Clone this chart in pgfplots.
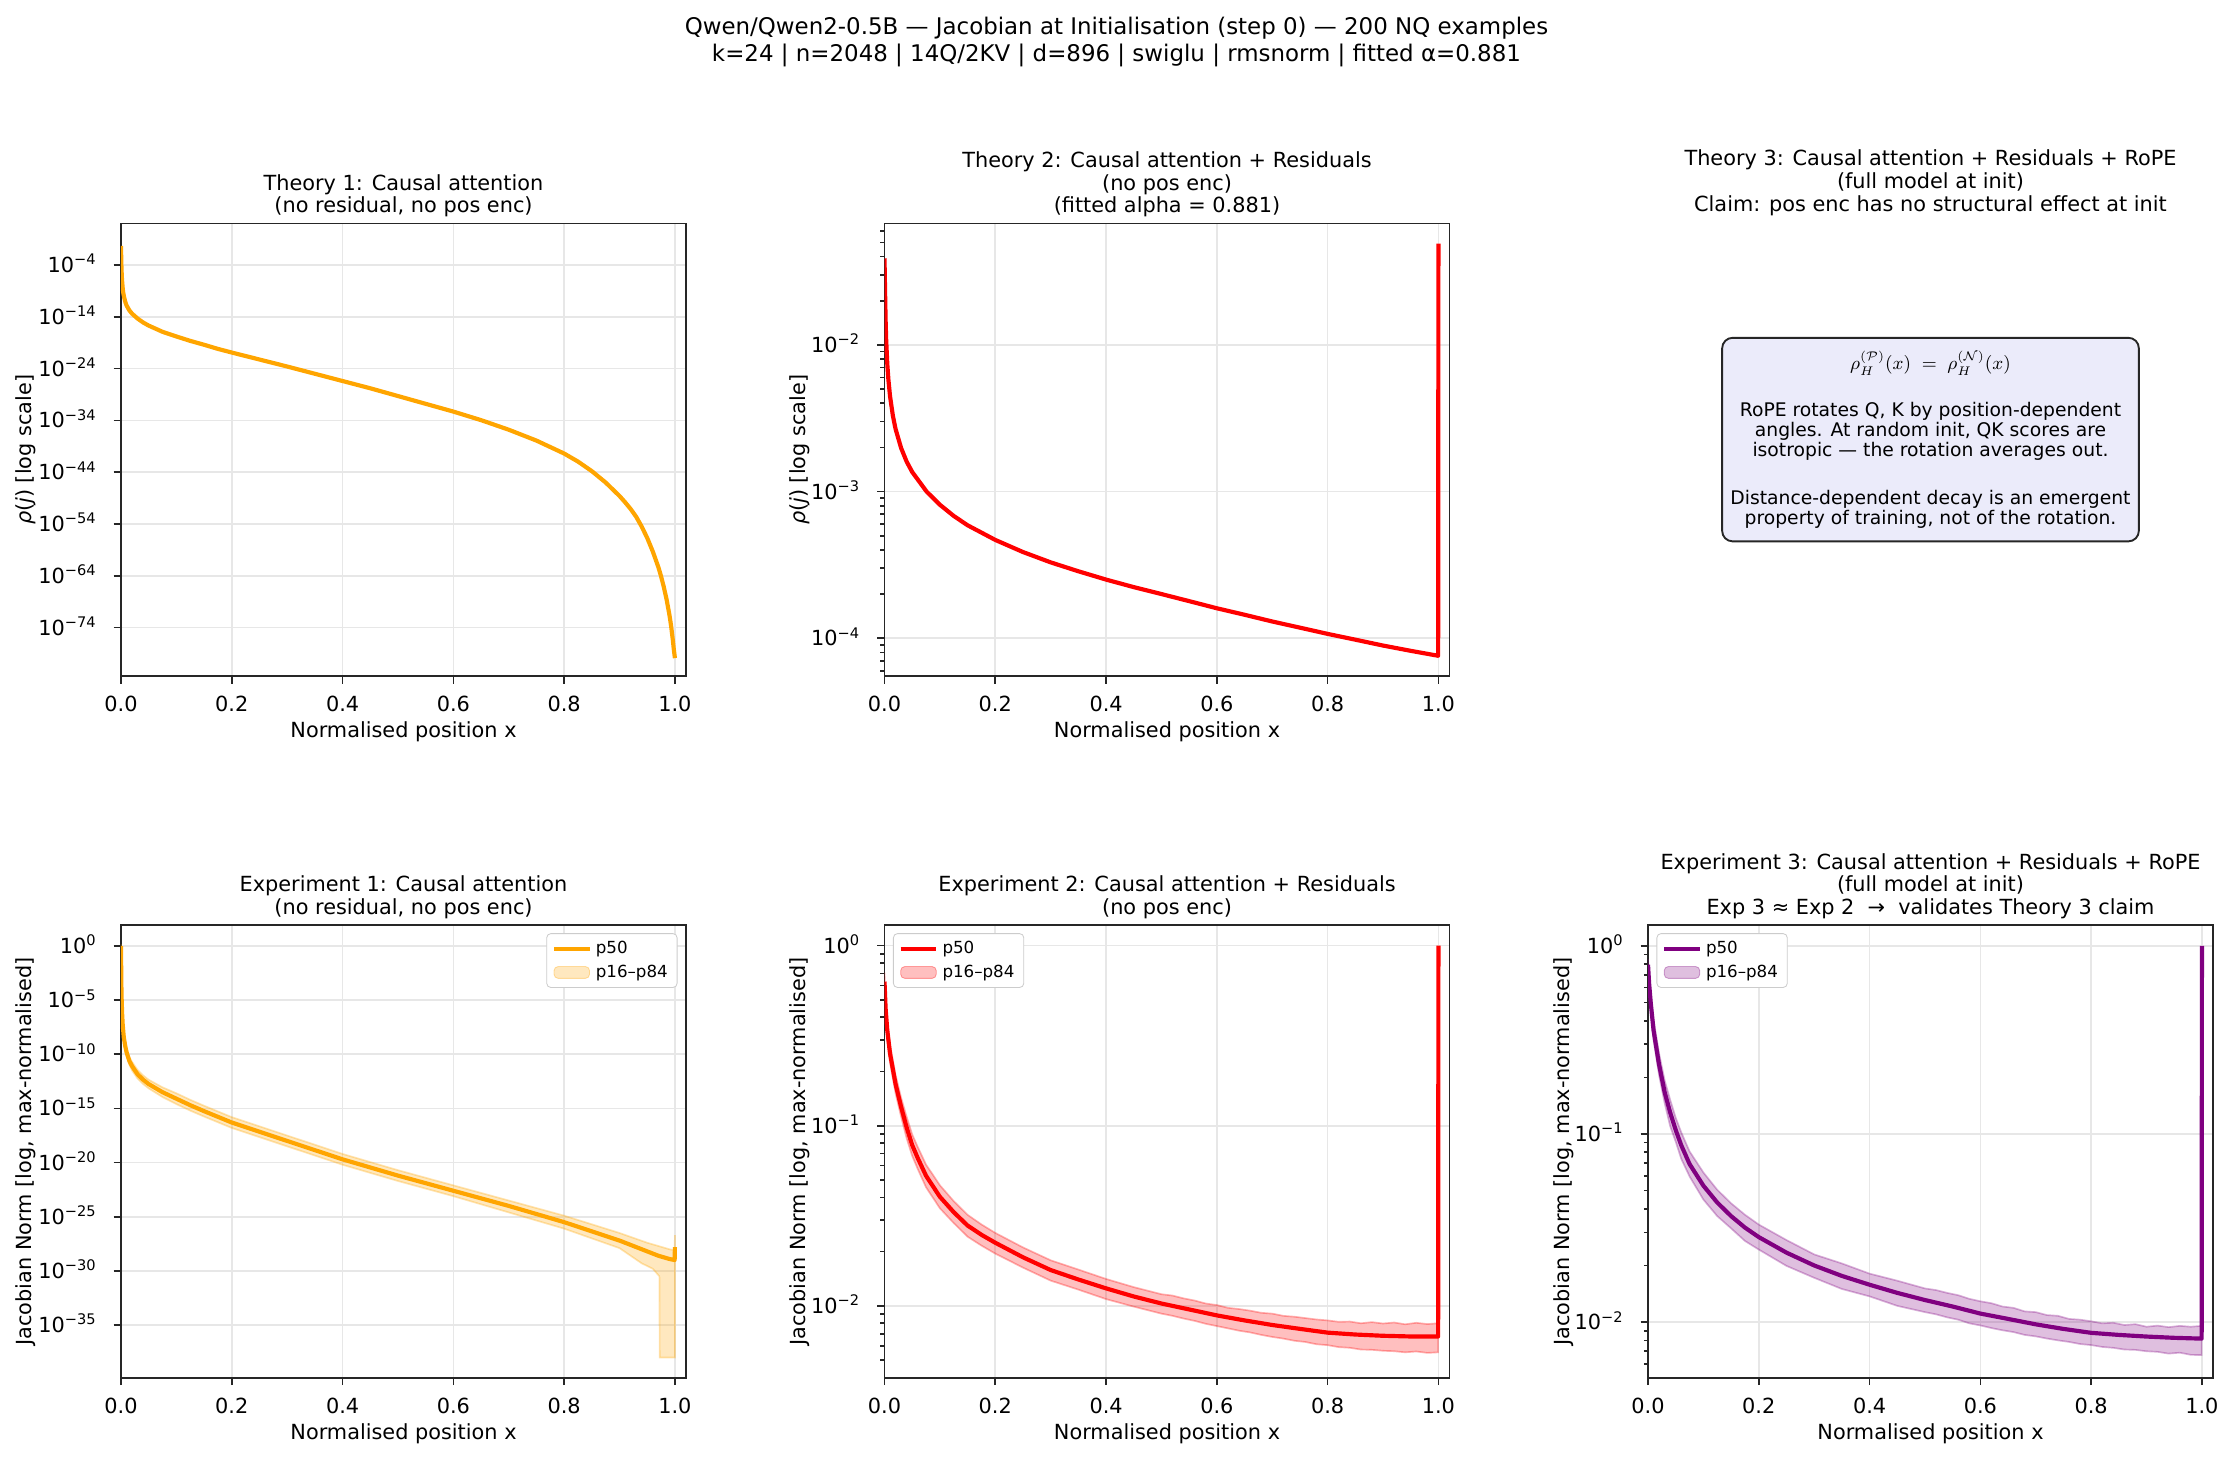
\documentclass[border=0pt]{standalone}
\usepackage{pgfplots}
\pgfplotsset{compat=1.18}
\usepackage{fontspec}
\setmainfont{DejaVu Sans}
\definecolor{mplorange}{RGB}{255,165,0}
\definecolor{mplred}{RGB}{255,0,0}
\definecolor{mplpurple}{RGB}{128,0,128}
\definecolor{gridgray}{RGB}{231,231,231}
\definecolor{axisgray}{RGB}{38,38,38}
\definecolor{boxfill}{RGB}{235,235,250}
\newcommand{\tp}[1]{10\textsuperscript{#1}}
\pgfplotsset{
  every axis/.append style={
    scale only axis, width=271.2pt, height=217.4pt,
    xmin=0, xmax=1.02, ymode=log,
    xtick={0,0.2,0.4,0.6,0.8,1.0},
    xticklabels={0.0,0.2,0.4,0.6,0.8,1.0},
    xmajorgrids, ymajorgrids,
    grid style={line width=0.8pt, draw=gridgray},
    axis line style={line width=0.8pt, draw=axisgray},
    every tick/.style={line width=0.8pt, draw=axisgray},
    major tick length=3.5pt, minor tick length=2pt,
    tick align=outside, xtick pos=bottom, ytick pos=left,
    xticklabel style={font=\fontsize{10}{12}\selectfont, inner sep=0pt, anchor=north, yshift=-6pt},
    yticklabel style={font=\fontsize{10}{12}\selectfont, inner sep=0pt, anchor=base east, xshift=-8pt, yshift=-3.6pt},
    label style={font=\fontsize{10}{12}\selectfont},
    xlabel={Normalised position x},
    xlabel style={at={(axis description cs:0.5,-0.123)}, anchor=center, inner sep=0pt},
    title style={font=\fontsize{10}{10.9}\selectfont, align=center, at={(axis description cs:0.5,1)}, anchor=south, inner sep=0pt, yshift=-3.2pt},
    legend style={font=\fontsize{8}{9.6}\selectfont, draw=black!20, rounded corners=2pt, fill=white, inner xsep=2.5pt, inner ysep=1.5pt, cells={anchor=west}},
    legend cell align=left,
  }
}
\begin{document}
\begin{tikzpicture}
\useasboundingbox (0,0) rectangle (1071.84pt,-699.36pt);

% Suptitle
\node[align=center, font=\fontsize{11}{13}\selectfont] at (535.92pt,-20pt)
  {Qwen/Qwen2-0.5B — Jacobian at Initialisation (step 0) — 200 NQ examples\\k=24 | n=2048 | 14Q/2KV | d=896 | swiglu | rmsnorm | fitted α=0.881};

% ---------------- Theory 1 ----------------
\begin{axis}[at={(58.08pt,-107.2pt)}, anchor=north west,
  ymin=3.98e-84, ymax=1.1e4,
  ytick={1e-4,1e-14,1e-24,1e-34,1e-44,1e-54,1e-64,1e-74},
  yticklabels={\tp{−4},\tp{−14},\tp{−24},\tp{−34},\tp{−44},\tp{−54},\tp{−64},\tp{−74}},
  minor ytick={},
  title={Theory 1: Causal attention\\(no residual, no pos enc)},
  ylabel={\textit{ρ}(\textit{j}) [log scale]},
  ylabel style={at={(axis description cs:-0.1689,0.5)}, anchor=center, inner sep=0pt},
]
\addplot[mplorange, line width=2pt, line join=round] coordinates {
(0,4.68e-1)(0.0005,6.31e-4)(0.001,1e-5)(0.0015,6.31e-7)(0.002,7.94e-8)(0.003,3.98e-9)
(0.004,5.01e-10)(0.006,3.98e-11)(0.008,6.31e-12)(0.01,1.58e-12)(0.015,1.78e-13)(0.02,3.98e-14)
(0.03,4.47e-15)(0.04,7.94e-16)(0.05,2.0e-16)(0.075,1.26e-17)(0.1,1.58e-18)(0.125,2.24e-19)
(0.15,3.98e-20)(0.175,6.31e-21)(0.2,1.26e-21)(0.25,5.62e-23)(0.3,2.51e-24)(0.35,1e-25)
(0.4,3.98e-27)(0.45,1.58e-28)(0.5,5.01e-30)(0.55,1.58e-31)(0.6,5.01e-33)(0.65,1.12e-34)
(0.7,1.58e-36)(0.75,1.26e-38)(0.8,3.98e-41)(0.825,1.12e-42)(0.85,1.58e-44)(0.875,1e-46)
(0.9,2.51e-49)(0.91,1.58e-50)(0.92,7.94e-52)(0.93,2.51e-53)(0.94,3.16e-55)(0.95,2.0e-57)
(0.96,5.01e-60)(0.97,5.01e-63)(0.975,7.94e-65)(0.98,6.31e-67)(0.985,2.51e-69)(0.99,3.16e-72)
(0.993,2.51e-74)(0.996,6.31e-77)(0.998,6.31e-79)(1.0,1.26e-80)
};
\end{axis}

% ---------------- Theory 2 ----------------
\begin{axis}[at={(424.56pt,-107.2pt)}, anchor=north west,
  ymin=5.5e-5, ymax=0.0675,
  ytick={1e-4,1e-3,1e-2},
  yticklabels={\tp{−4},\tp{−3},\tp{−2}},
  minor ytick={6e-5,7e-5,8e-5,9e-5,2e-4,3e-4,4e-4,5e-4,6e-4,7e-4,8e-4,9e-4,2e-3,3e-3,4e-3,5e-3,6e-3,7e-3,8e-3,9e-3,2e-2,3e-2,4e-2,5e-2,6e-2},
  title={Theory 2: Causal attention + Residuals\\(no pos enc)\\(fitted alpha = 0.881)},
  ylabel={\textit{ρ}(\textit{j}) [log scale]},
  ylabel style={at={(axis description cs:-0.1497,0.5)}, anchor=center, inner sep=0pt},
]
\addplot[mplred, line width=2pt, line join=round] coordinates {
(0,3.9e-2)(0.001,2.34e-2)(0.002,1.48e-2)(0.003,1.09e-2)(0.005,7.46e-3)(0.007,5.82e-3)
(0.01,4.47e-3)(0.015,3.31e-3)(0.02,2.67e-3)(0.03,1.98e-3)(0.04,1.60e-3)(0.05,1.36e-3)
(0.076,1.0e-3)(0.1,8.13e-4)(0.125,6.82e-4)(0.15,5.89e-4)(0.2,4.68e-4)(0.25,3.87e-4)
(0.3,3.29e-4)(0.35,2.86e-4)(0.4,2.51e-4)(0.45,2.23e-4)(0.5,2.0e-4)(0.55,1.79e-4)
(0.6,1.60e-4)(0.65,1.445e-4)(0.7,1.30e-4)(0.75,1.18e-4)(0.8,1.07e-4)(0.85,9.77e-5)
(0.9,8.91e-5)(0.95,8.20e-5)(0.9995,7.59e-5)(1.0,4.9e-2)
};
\end{axis}

% ---------------- Theory 3 (text panel) ----------------
\node[anchor=south, inner sep=0pt, align=center, font=\fontsize{10}{10.9}\selectfont] at (926.64pt,-103.6pt)
  {Theory 3: Causal attention + Residuals + RoPE\\(full model at init)\\Claim: pos enc has no structural effect at init};
\node[draw=axisgray, fill=boxfill, rounded corners=5pt, line width=0.9pt, align=center,
      minimum width=200pt, minimum height=97.7pt, inner sep=0pt,
      font=\fontsize{9}{9.6}\selectfont] at (926.64pt,-211pt)
  {$\rho_H^{(\mathcal{P})}(x) \;=\; \rho_H^{(\mathcal{N})}(x)$\\[13pt]
   RoPE rotates Q, K by position-dependent\\angles. At random init, QK scores are\\isotropic — the rotation averages out.\\[13.4pt]
   Distance-dependent decay is an emergent\\property of training, not of the rotation.};

% ---------------- Experiment 1 ----------------
\begin{axis}[at={(58.08pt,-444pt)}, anchor=north west,
  ymin=1.3e-40, ymax=87,
  ytick={1,1e-5,1e-10,1e-15,1e-20,1e-25,1e-30,1e-35},
  yticklabels={\tp{0},\tp{−5},\tp{−10},\tp{−15},\tp{−20},\tp{−25},\tp{−30},\tp{−35}},
  minor ytick={},
  title={Experiment 1: Causal attention\\(no residual, no pos enc)},
  ylabel={Jacobian Norm [log, max-normalised]},
  ylabel style={at={(axis description cs:-0.1689,0.5)}, anchor=center, inner sep=0pt},
  legend style={at={(axis description cs:0.985,0.982)}, anchor=north east},
]
\addplot[forget plot, fill=mplorange, fill opacity=0.25, draw=mplorange, draw opacity=0.3, line width=0.8pt] coordinates {
(0,1.41)(0.0005,2.0e-3)(0.001,5.01e-5)(0.002,1.41e-6)(0.003,1.41e-7)(0.005,8.91e-9)(0.0075,1.41e-9)
(0.01,3.55e-10)(0.015,5.62e-11)(0.02,2.0e-11)(0.03,3.55e-12)(0.04,1.12e-12)(0.05,4.47e-13)
(0.075,8.91e-14)(0.1,2.51e-14)(0.125,6.31e-15)(0.15,1.78e-15)(0.2,1.58e-16)(0.25,2.24e-17)
(0.3,3.16e-18)(0.35,4.47e-19)(0.4,6.31e-20)(0.45,1.12e-20)(0.5,2.0e-21)(0.55,3.98e-22)
(0.6,7.94e-23)(0.65,1.58e-23)(0.7,3.16e-24)(0.75,6.31e-25)(0.8,1.26e-25)(0.85,2.0e-26)
(0.9,3.16e-27)(0.95,3.98e-28)(0.97,2.0e-28)(0.99,1e-28)(0.9995,7.94e-29)(1.0,2.0e-27)
(1.0,1e-38)(0.9725,1e-38)(0.972,3.16e-31)(0.96,1.58e-30)(0.94,5.01e-30)(0.9,1.26e-28)
(0.85,1e-27)(0.8,7.94e-27)(0.75,4.47e-26)(0.7,2.51e-25)(0.65,1.41e-24)(0.6,7.94e-24)
(0.55,3.98e-23)(0.5,2.0e-22)(0.45,1.12e-21)(0.4,6.31e-21)(0.35,4.47e-20)(0.3,3.16e-19)
(0.25,2.24e-18)(0.2,1.58e-17)(0.15,1.78e-16)(0.125,6.31e-16)(0.1,2.51e-15)(0.075,1.12e-14)
(0.05,7.08e-14)(0.04,1.78e-13)(0.03,5.62e-13)(0.02,3.16e-12)(0.015,1.12e-11)(0.01,7.08e-11)
(0.0075,2.82e-10)(0.005,1.78e-9)(0.003,2.82e-8)(0.002,2.82e-7)(0.001,1.26e-5)(0.0005,5.01e-4)(0,7.94e-1)
};
\addplot[mplorange, line width=2pt, line join=round] coordinates {
(0,1.0)(0.0005,1e-3)(0.001,2.51e-5)(0.002,6.31e-7)(0.003,6.31e-8)(0.005,3.98e-9)(0.0075,6.31e-10)
(0.01,1.58e-10)(0.015,2.51e-11)(0.02,7.94e-12)(0.03,1.41e-12)(0.04,4.47e-13)(0.05,1.78e-13)
(0.075,3.16e-14)(0.1,7.94e-15)(0.125,2.0e-15)(0.15,5.62e-16)(0.2,5.01e-17)(0.25,7.08e-18)
(0.3,1e-18)(0.35,1.41e-19)(0.4,2.0e-20)(0.45,3.55e-21)(0.5,6.31e-22)(0.55,1.26e-22)
(0.6,2.51e-23)(0.65,5.01e-24)(0.7,1e-24)(0.75,1.78e-25)(0.8,3.16e-26)(0.85,4.47e-27)
(0.9,6.31e-28)(0.95,6.31e-29)(0.97,2.51e-29)(0.99,1.26e-29)(0.9995,1e-29)(1.0,1.58e-28)
};
\addlegendimage{area legend, fill=mplorange, fill opacity=0.25, draw=mplorange, draw opacity=0.35}
\legend{p50,p16–p84}
\end{axis}

% ---------------- Experiment 2 ----------------
\begin{axis}[at={(424.56pt,-444pt)}, anchor=north west,
  ymin=3.98e-3, ymax=1.3,
  ytick={1e-2,1e-1,1},
  yticklabels={\tp{−2},\tp{−1},\tp{0}},
  minor ytick={5e-3,6e-3,7e-3,8e-3,9e-3,2e-2,3e-2,4e-2,5e-2,6e-2,7e-2,8e-2,9e-2,2e-1,3e-1,4e-1,5e-1,6e-1,7e-1,8e-1,9e-1},
  title={Experiment 2: Causal attention + Residuals\\(no pos enc)},
  ylabel={Jacobian Norm [log, max-normalised]},
  ylabel style={at={(axis description cs:-0.1497,0.5)}, anchor=center, inner sep=0pt},
  legend style={at={(axis description cs:0.015,0.982)}, anchor=north west},
]
\addplot[forget plot, fill=mplred, fill opacity=0.25, draw=mplred, draw opacity=0.3, line width=0.8pt] coordinates {
(0,0.708)(0.002,0.50)(0.005,0.38)(0.01,0.282)(0.02,0.191)(0.03,0.143)(0.04,0.112)(0.05,0.0895)
(0.06,0.0762)(0.075,0.0608)(0.1,0.0467)(0.125,0.0381)(0.15,0.032)(0.175,0.0283)(0.2,0.0254)
(0.25,0.0211)(0.3,0.0179)(0.35,0.0159)(0.4,0.0141)(0.45,0.0127)(0.5,0.0116)(0.52,0.0114)(0.54,0.0110)
(0.56,0.0107)(0.58,0.0103)(0.60,0.0101)(0.62,0.00975)(0.64,0.0096)(0.66,0.0094)(0.68,0.00915)
(0.70,0.00905)(0.72,0.0088)(0.74,0.0087)(0.76,0.00855)(0.78,0.0084)(0.80,0.0083)(0.82,0.00815)
(0.84,0.00818)(0.86,0.0080)(0.88,0.00812)(0.90,0.00798)(0.92,0.00808)(0.94,0.0079)(0.96,0.00805)
(0.98,0.00792)(0.9995,0.0080)
(0.9995,0.00552)(0.98,0.00548)(0.96,0.00558)(0.94,0.00552)(0.92,0.0056)(0.90,0.00563)(0.88,0.0057)
(0.86,0.00572)(0.84,0.00585)(0.82,0.0059)(0.80,0.00605)(0.78,0.00612)(0.76,0.0063)(0.74,0.0064)
(0.72,0.00658)(0.70,0.00672)(0.68,0.0069)(0.66,0.00712)(0.64,0.00728)(0.62,0.0075)(0.60,0.00772)
(0.58,0.00795)(0.56,0.00825)(0.54,0.0085)(0.52,0.0088)(0.5,0.00905)(0.45,0.0099)(0.4,0.0109)
(0.35,0.0123)(0.3,0.0138)(0.25,0.0163)(0.2,0.0195)(0.175,0.0216)(0.15,0.0242)(0.125,0.0288)
(0.1,0.0348)(0.075,0.0455)(0.06,0.0575)(0.05,0.068)(0.04,0.085)(0.03,0.112)(0.02,0.151)
(0.01,0.224)(0.005,0.30)(0.002,0.40)(0,0.55)
};
\addplot[mplred, line width=2pt, line join=round] coordinates {
(0,0.631)(0.002,0.447)(0.005,0.339)(0.01,0.251)(0.02,0.170)(0.03,0.127)(0.04,0.0977)(0.05,0.078)
(0.06,0.0661)(0.075,0.0527)(0.1,0.0403)(0.125,0.0331)(0.15,0.0279)(0.175,0.0248)(0.2,0.0224)
(0.25,0.0186)(0.3,0.0158)(0.35,0.0140)(0.4,0.0125)(0.45,0.01127)(0.5,0.0103)(0.55,0.00955)(0.6,0.00885)
(0.65,0.0083)(0.7,0.00783)(0.75,0.00745)(0.8,0.0071)(0.85,0.00693)(0.9,0.00682)(0.95,0.00676)
(0.9995,0.00676)(1.0,1.0)
};
\addlegendimage{area legend, fill=mplred, fill opacity=0.25, draw=mplred, draw opacity=0.35}
\legend{p50,p16–p84}
\end{axis}

% ---------------- Experiment 3 ----------------
\begin{axis}[at={(791.04pt,-444pt)}, anchor=north west,
  ymin=5.05e-3, ymax=1.29,
  ytick={1e-2,1e-1,1},
  yticklabels={\tp{−2},\tp{−1},\tp{0}},
  minor ytick={6e-3,7e-3,8e-3,9e-3,2e-2,3e-2,4e-2,5e-2,6e-2,7e-2,8e-2,9e-2,2e-1,3e-1,4e-1,5e-1,6e-1,7e-1,8e-1,9e-1},
  title={Experiment 3: Causal attention + Residuals + RoPE\\(full model at init)\\Exp 3 ≈ Exp 2~~→~~validates Theory 3 claim},
  ylabel={Jacobian Norm [log, max-normalised]},
  ylabel style={at={(axis description cs:-0.1497,0.5)}, anchor=center, inner sep=0pt},
  legend style={at={(axis description cs:0.015,0.982)}, anchor=north west},
]
\addplot[forget plot, fill=mplpurple, fill opacity=0.25, draw=mplpurple, draw opacity=0.3, line width=0.8pt] coordinates {
(0,0.85)(0.002,0.70)(0.005,0.56)(0.01,0.405)(0.02,0.268)(0.03,0.193)(0.04,0.152)(0.05,0.122)
(0.06,0.102)(0.075,0.0808)(0.1,0.0624)(0.125,0.0505)(0.15,0.0428)(0.175,0.0372)(0.2,0.033)
(0.25,0.0273)(0.3,0.0229)(0.35,0.0205)(0.4,0.0181)(0.45,0.0166)(0.5,0.0151)(0.52,0.0148)(0.54,0.0143)
(0.56,0.0139)(0.58,0.0133)(0.60,0.0129)(0.62,0.0126)(0.64,0.0121)(0.66,0.0119)(0.68,0.0114)
(0.70,0.0113)(0.72,0.0109)(0.74,0.0108)(0.76,0.0104)(0.78,0.0103)(0.80,0.0101)(0.82,0.00985)
(0.84,0.00992)(0.86,0.00965)(0.88,0.00975)(0.90,0.00945)(0.92,0.00958)(0.94,0.0094)(0.96,0.00955)
(0.98,0.00945)(0.9995,0.00955)
(0.9995,0.00668)(0.98,0.0067)(0.96,0.00688)(0.94,0.0068)(0.92,0.00695)(0.90,0.0070)(0.88,0.00712)
(0.86,0.00715)(0.84,0.0073)(0.82,0.00738)(0.80,0.00755)(0.78,0.00765)(0.76,0.00785)(0.74,0.0080)
(0.72,0.00818)(0.70,0.0084)(0.68,0.00855)(0.66,0.00885)(0.64,0.00905)(0.62,0.0093)(0.60,0.0096)
(0.58,0.00985)(0.56,0.0103)(0.54,0.0106)(0.52,0.011)(0.5,0.0113)(0.45,0.0122)(0.4,0.0137)
(0.35,0.0150)(0.3,0.0172)(0.25,0.0199)(0.2,0.0243)(0.175,0.0270)(0.15,0.0315)(0.125,0.0366)
(0.1,0.0448)(0.075,0.0595)(0.06,0.0738)(0.05,0.091)(0.04,0.110)(0.03,0.146)(0.02,0.205)
(0.01,0.315)(0.005,0.44)(0.002,0.56)(0,0.70)
};
\addplot[mplpurple, line width=2pt, line join=round] coordinates {
(0,0.794)(0.002,0.631)(0.005,0.495)(0.01,0.356)(0.02,0.233)(0.03,0.167)(0.04,0.130)(0.05,0.105)
(0.06,0.0871)(0.075,0.0692)(0.1,0.0531)(0.125,0.0432)(0.15,0.0366)(0.175,0.0318)(0.2,0.0283)
(0.25,0.0234)(0.3,0.0200)(0.35,0.0176)(0.4,0.0158)(0.45,0.0143)(0.5,0.0131)(0.55,0.0121)(0.6,0.0111)
(0.65,0.0104)(0.7,0.00973)(0.75,0.0092)(0.8,0.00877)(0.85,0.00855)(0.9,0.00838)(0.95,0.00825)
(0.9995,0.00817)(1.0,1.0)
};
\addlegendimage{area legend, fill=mplpurple, fill opacity=0.25, draw=mplpurple, draw opacity=0.35}
\legend{p50,p16–p84}
\end{axis}
\end{tikzpicture}
\end{document}
